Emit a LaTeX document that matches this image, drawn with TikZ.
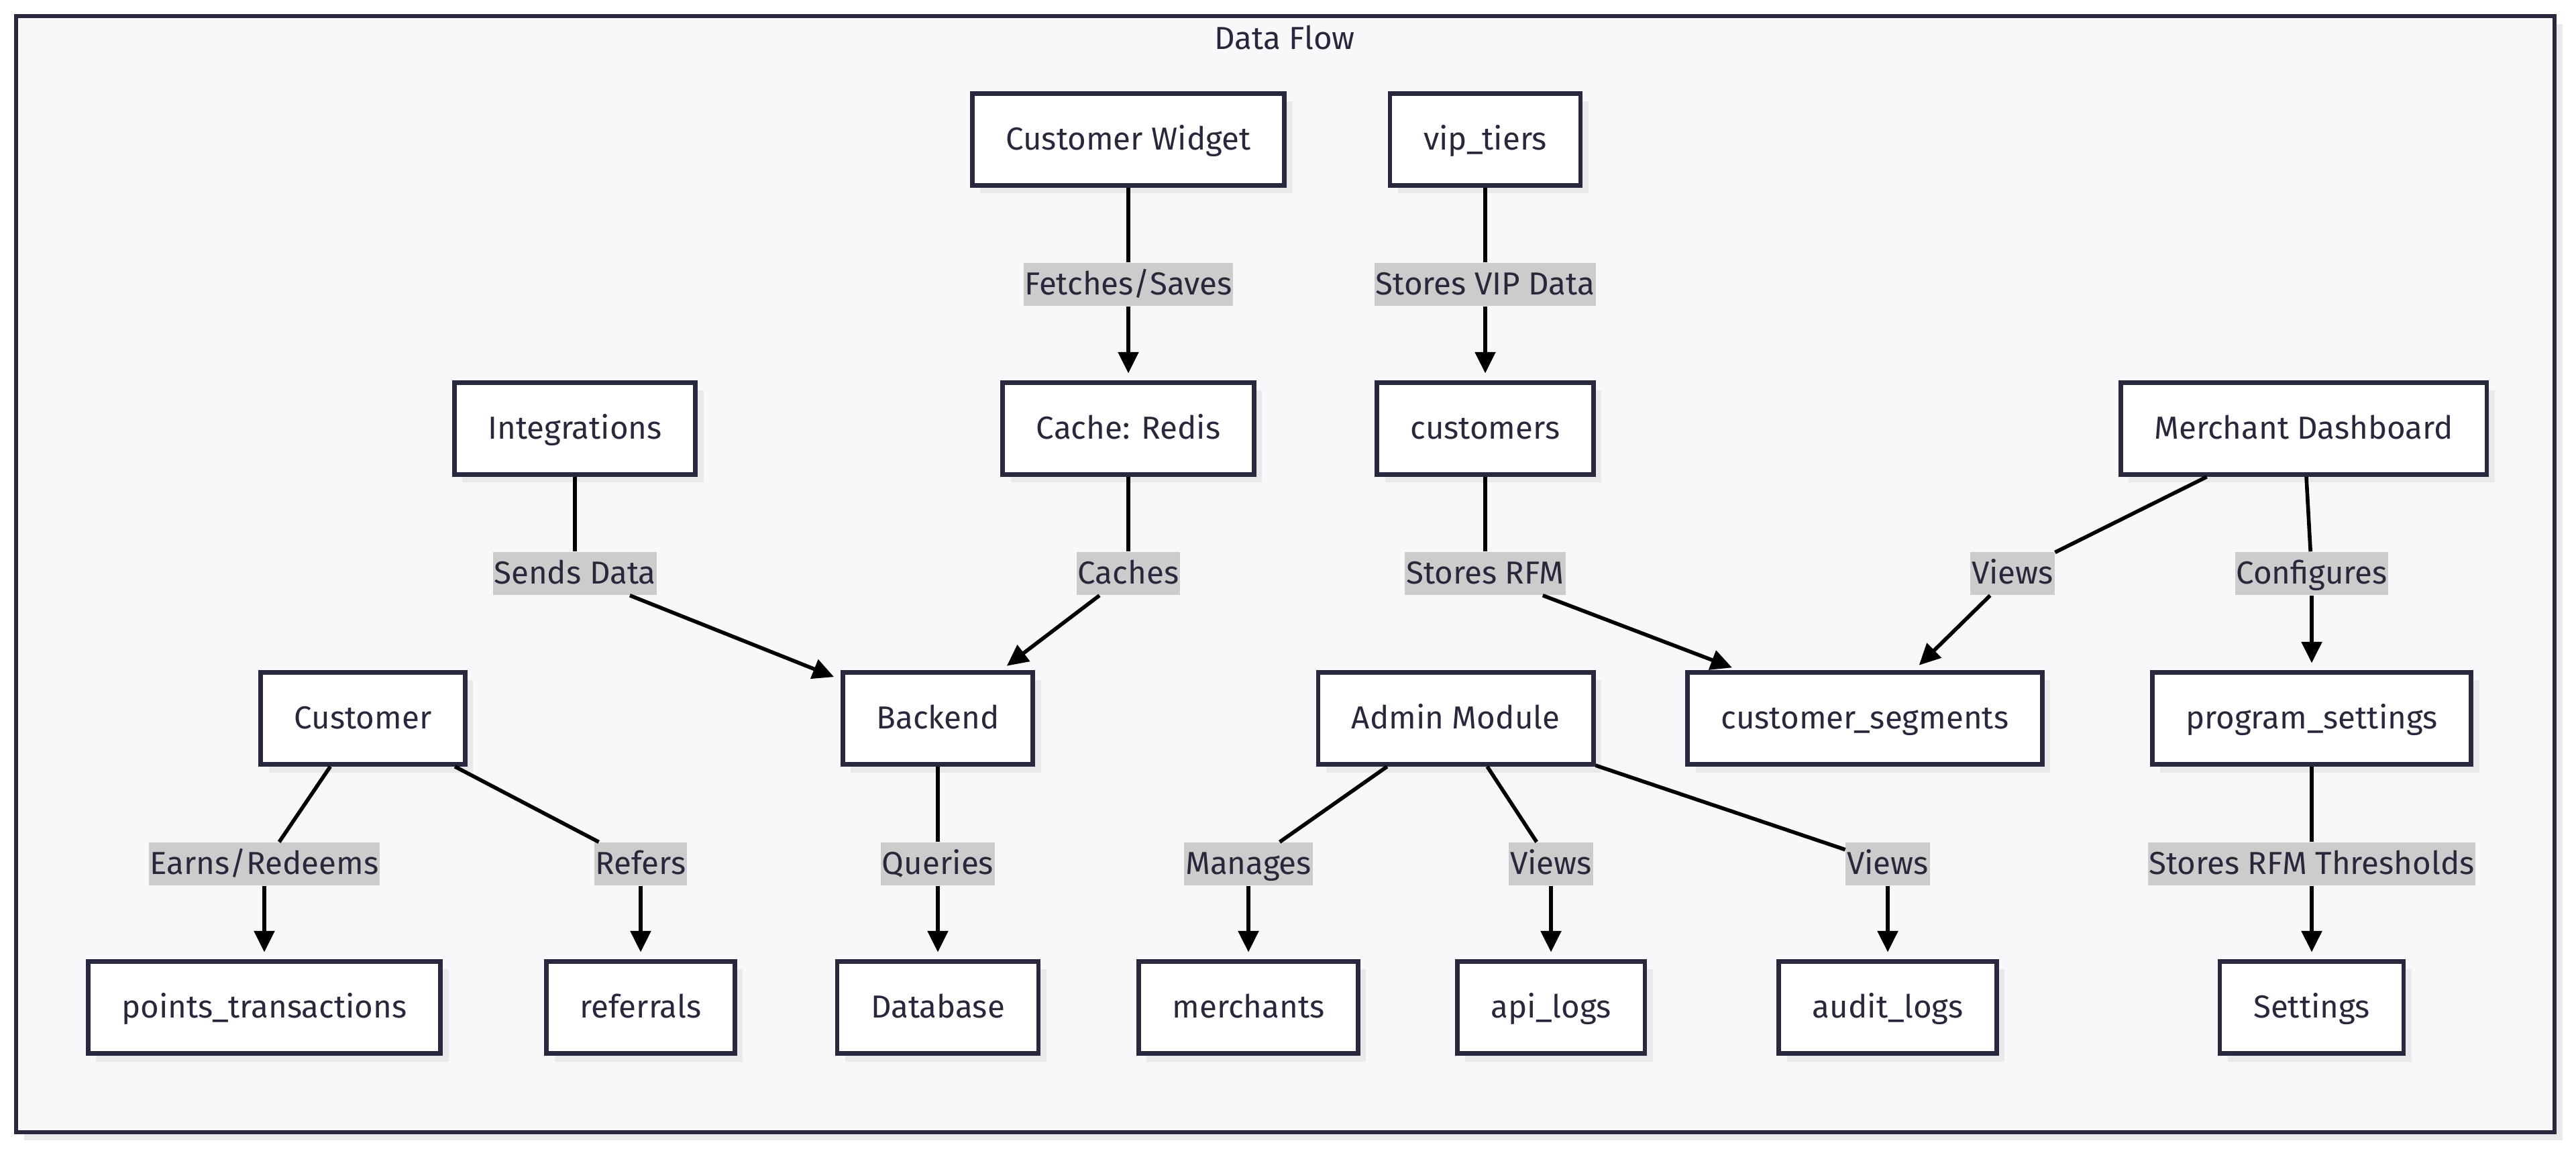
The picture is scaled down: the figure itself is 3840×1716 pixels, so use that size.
\documentclass[tikz,border=0pt]{standalone}
\usepackage{fontspec}
\setmainfont{Fira Sans}
\usetikzlibrary{arrows.meta,shadows}
\definecolor{framefill}{RGB}{248,248,250}
\definecolor{boxline}{RGB}{40,40,62}
\definecolor{tagfill}{RGB}{204,204,204}
\definecolor{shade}{RGB}{233,233,236}
\definecolor{ink}{RGB}{40,40,60}
\tikzset{
  box/.style={draw=boxline, line width=1.9pt, fill=white, text=ink,
    minimum height=1.37cm, inner xsep=0.5cm,
    text height=0.9em, text depth=0em,
    font=\fontsize{13.5}{15}\selectfont,
    drop shadow={shadow xshift=3.4pt, shadow yshift=-3.4pt, fill=shade, opacity=1}},
  tag/.style={fill=tagfill, text=ink, inner xsep=0.5pt, inner ysep=0pt,
    minimum height=0.64cm, text height=0.9em, text depth=0em,
    font=\fontsize{13.5}{15}\selectfont},
  link/.style={line width=1.6pt, draw=black},
  flow/.style={link, -{Triangle[length=9pt,width=8.5pt]}, shorten >=3pt}
}

\begin{document}
\begin{tikzpicture}[x=0.01cm,y=-0.01cm]
    %% Background
    \useasboundingbox (0,0) rectangle (3840,1716);
    \draw[draw=boxline, line width=1.9pt, fill=framefill,
      drop shadow={shadow xshift=3.4pt, shadow yshift=-3.4pt, fill=shade, opacity=1}]
      (24,24) rectangle (3808,1688);
    \node[text=ink, font=\fontsize{13.5}{15}\selectfont] (title) at (1915,56) {Data Flow};

    %% Boxes, row by row
    \node[box] (widget) at (1682,208) {Customer Widget};
    \node[box] (viptiers) at (2214,208) {vip\_tiers};

    \node[box] (integrations) at (857,639) {Integrations};
    \node[box] (cache) at (1682,639) {Cache: Redis};
    \node[box] (customers) at (2214,639) {customers};
    \node[box] (dashboard) at (3434,639) {Merchant Dashboard};

    \node[box] (customer) at (541,1071) {Customer};
    \node[box] (backend) at (1398,1071) {Backend};
    \node[box] (admin) at (2170,1071) {Admin Module};
    \node[box] (segments) at (2780,1071) {customer\_segments};
    \node[box] (progsettings) at (3446,1071) {program\_settings};

    \node[box] (points) at (394,1502) {points\_transactions};
    \node[box] (referrals) at (955,1502) {referrals};
    \node[box] (database) at (1398,1502) {Database};
    \node[box] (merchants) at (1861,1502) {merchants};
    \node[box] (apilogs) at (2312,1502) {api\_logs};
    \node[box] (auditlogs) at (2814,1502) {audit\_logs};
    \node[box] (settings) at (3446,1502) {Settings};

    %% Edge labels
    \node[tag] (fetches) at (1682,424) {Fetches/Saves};
    \node[tag] (storesvip) at (2214,424) {Stores VIP Data};
    \node[tag] (sendsdata) at (857,855) {Sends Data};
    \node[tag] (caches) at (1682,855) {Caches};
    \node[tag] (storesrfm) at (2214,855) {Stores RFM};
    \node[tag] (viewsseg) at (3000,855) {Views};
    \node[tag] (configures) at (3446,855) {Configures};
    \node[tag] (earns) at (394,1288) {Earns/Redeems};
    \node[tag] (refers) at (955,1288) {Refers};
    \node[tag] (queries) at (1398,1288) {Queries};
    \node[tag] (manages) at (1861,1288) {Manages};
    \node[tag] (viewsapi) at (2312,1288) {Views};
    \node[tag] (viewsaudit) at (2814,1288) {Views};
    \node[tag] (thresholds) at (3446,1288) {Stores RFM Thresholds};

    %% Connectors
    \draw[link] (widget) -- (fetches);
    \draw[flow] (fetches) -- (cache);
    \draw[link] (viptiers) -- (storesvip);
    \draw[flow] (storesvip) -- (customers);
    \draw[link] (integrations) -- (sendsdata);
    \draw[flow] (sendsdata) -- (backend);
    \draw[link] (cache) -- (caches);
    \draw[flow] (caches) -- (backend);
    \draw[link] (customers) -- (storesrfm);
    \draw[flow] (storesrfm) -- (segments);
    \draw[link] (dashboard) -- (viewsseg);
    \draw[flow] (viewsseg) -- (segments);
    \draw[link] (dashboard) -- (configures);
    \draw[flow] (configures) -- (progsettings);
    \draw[link] (customer) -- (earns);
    \draw[flow] (earns) -- (points);
    \draw[link] (customer) -- (refers);
    \draw[flow] (refers) -- (referrals);
    \draw[link] (backend) -- (queries);
    \draw[flow] (queries) -- (database);
    \draw[link] (admin) -- (manages);
    \draw[flow] (manages) -- (merchants);
    \draw[link] (admin) -- (viewsapi);
    \draw[flow] (viewsapi) -- (apilogs);
    \draw[link] (admin) -- (viewsaudit);
    \draw[flow] (viewsaudit) -- (auditlogs);
    \draw[link] (progsettings) -- (thresholds);
    \draw[flow] (thresholds) -- (settings);
\end{tikzpicture}
\end{document}
